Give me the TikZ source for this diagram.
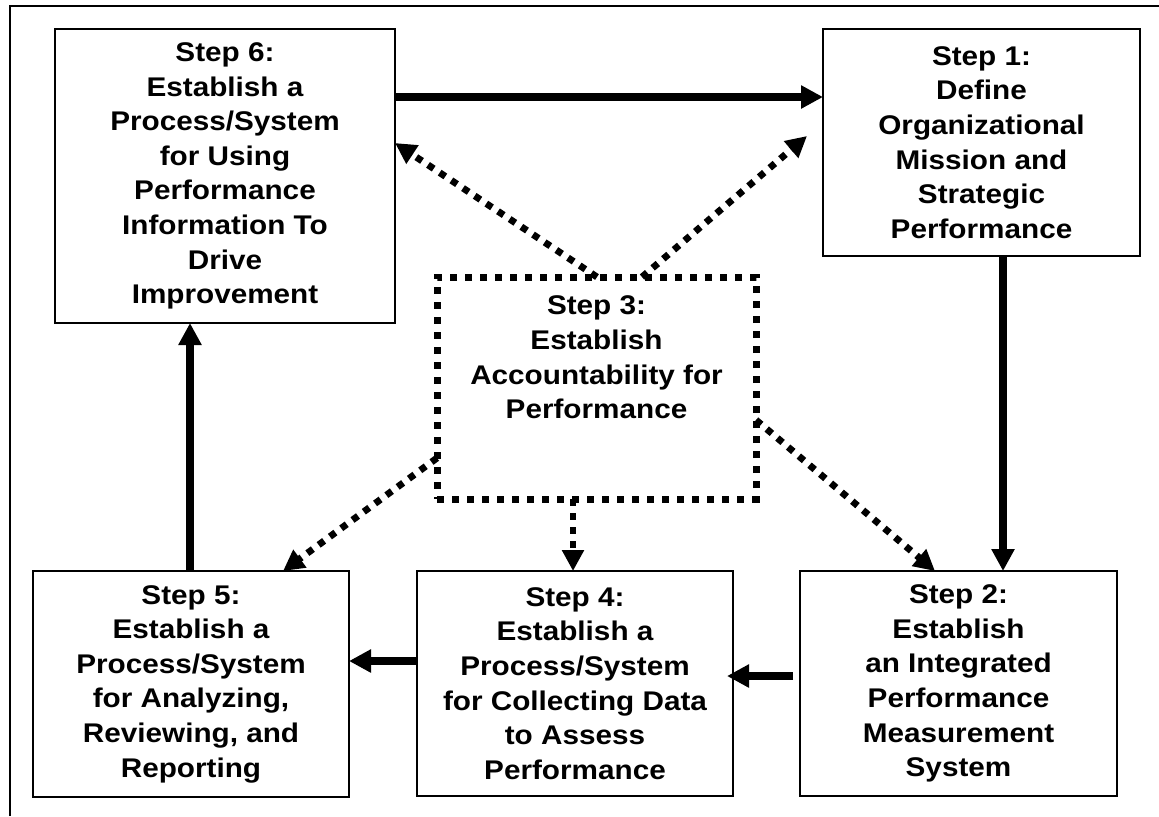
\documentclass[tikz,border=0pt]{standalone}
\usepackage{fontspec}
\setmainfont[FakeStretch=1.1]{Liberation Sans}
\usetikzlibrary{arrows.meta}
\begin{document}
\begin{tikzpicture}[x=0.5pt,y=-0.5pt,
  steptxt/.style={inner sep=0pt,outer sep=0pt,align=center,font=\bfseries\fontsize{13.5}{17.3}\selectfont},
  stepbox/.style={steptxt,shape=rectangle,draw=black,fill=white,line width=1pt},
  dotbox/.style={shape=rectangle,draw=black,line width=3.5pt,dash pattern=on 3.5pt off 4pt,inner sep=0pt,outer sep=0pt},
  flow/.style={line width=3.8pt,-{Triangle[length=11pt,width=11pt]}},
  link/.style={line width=3.4pt,dash pattern=on 3.4pt off 3.6pt,-{Triangle[length=10.5pt,width=10.5pt]}}]
 \useasboundingbox (0,0) rectangle (1159,816);
 \draw[line width=1pt] (10,816) -- (10,6) -- (1159,6);
 \node (step 6) at (225,176) [stepbox,minimum width=170pt,minimum height=147pt] {Step 6:\\Establish a\\Process/System\\for Using\\Performance\\Information To\\Drive\\Improvement};
 \node (step 1) at (981.5,142.5) [stepbox,minimum width=158.5pt,minimum height=113.5pt] {Step 1:\\Define\\Organizational\\Mission and\\Strategic\\Performance};
 \node (step 3) at (596.5,388) [dotbox,minimum width=159.5pt,minimum height=111pt] {};
 \node (step 3 text) at (596.5,296) [steptxt,anchor=north] {Step 3:\\Establish\\Accountability for\\Performance};
 \node (step 5) at (191,684) [stepbox,minimum width=158pt,minimum height=113pt] {Step 5:\\Establish a\\Process/System\\for Analyzing,\\Reviewing, and\\Reporting};
 \node (step 4) at (575,683.5) [stepbox,minimum width=158pt,minimum height=112.5pt] {Step 4:\\Establish a\\Process/System\\for Collecting Data\\to Assess\\Performance};
 \node (step 2) at (958.5,683.5) [stepbox,minimum width=158.5pt,minimum height=112.5pt] {Step 2:\\Establish\\an Integrated\\Performance\\Measurement\\System};
 \coordinate (near step 1) at (807,136);
 \draw[flow] (step 6.east |- 0,97) -- (step 1.west |- 0,97);
 \draw[flow] (step 1.south -| 1003,0) -- (step 2.north -| 1003,0);
 \draw[flow,shorten <=3.5pt,shorten >=-3pt] (step 2.west |- 0,676) -- (step 4.east |- 0,676);
 \draw[flow] (step 4.west |- 0,661) -- (step 5.east |- 0,661);
 \draw[flow] (step 5.north -| 190,0) -- (step 6.south -| 190,0);
 \draw[link] (step 3.north -| 597,0) -- (step 6.east |- 0,143);
 \draw[link] (step 3.north -| 642,0) -- (near step 1);
 \draw[link] (step 3.west |- 0,458) -- (step 5.north -| 283,0);
 \draw[link] (step 3.east |- 0,420) -- (step 2.north -| 935,0);
 \draw[link] (step 3.south -| 573,0) -- (step 4.north -| 573,0);
\end{tikzpicture}
\end{document}
